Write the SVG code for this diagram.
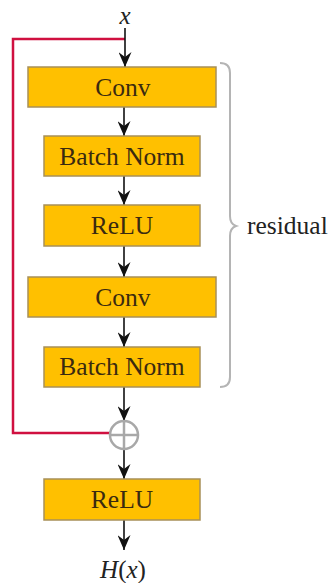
<svg xmlns="http://www.w3.org/2000/svg" width="331" height="583" viewBox="0 0 331 583">
  <style>
    .box { fill: #FFC000; stroke: #A89058; stroke-width: 1.5; }
    .lbl { font-family: "Liberation Serif", "DejaVu Serif", serif; font-size: 25.5px; fill: #3A2A10; text-anchor: middle; }
    .math { font-family: "Liberation Serif", "DejaVu Serif", serif; font-size: 25px; font-style: italic; fill: #222; text-anchor: middle; }
    .edge { stroke: #111; stroke-width: 1.6; fill: none; }
  </style>
  <defs>
    <marker id="ah" viewBox="0 0 15 13" refX="15" refY="6.5" markerWidth="15" markerHeight="13" markerUnits="userSpaceOnUse" orient="auto">
      <path d="M0,0 L15,6.5 L0,13 L5,6.5 Z" fill="#111"/>
    </marker>
  </defs>

  <!-- input / output labels -->
  <text class="math" x="125" y="24">x</text>
  <text class="math" x="123" y="578">H<tspan font-style="normal">(</tspan>x<tspan font-style="normal">)</tspan></text>

  <!-- skip connection -->
  <g id="skip">
    <polyline points="125,39 13,39 13,433 111,433" fill="none" stroke="#D01040" stroke-width="2.5"/>
  </g>

  <!-- connectors -->
  <g id="connectors">
    <line class="edge" x1="125" y1="28" x2="125" y2="67" marker-end="url(#ah)"/>
    <line class="edge" x1="124" y1="107" x2="124" y2="136" marker-end="url(#ah)"/>
    <line class="edge" x1="124" y1="176" x2="124" y2="205" marker-end="url(#ah)"/>
    <line class="edge" x1="124" y1="246" x2="124" y2="277" marker-end="url(#ah)"/>
    <line class="edge" x1="124" y1="317" x2="124" y2="347" marker-end="url(#ah)"/>
    <line class="edge" x1="124" y1="387" x2="124" y2="421" marker-end="url(#ah)"/>
    <line class="edge" x1="124" y1="449" x2="124" y2="479" marker-end="url(#ah)"/>
    <line class="edge" x1="124" y1="520" x2="124" y2="550" marker-end="url(#ah)"/>
  </g>

  <!-- residual brace -->
  <g id="brace">
    <path d="M220,63 Q230,63 230,73 L230,216 Q230,224 236,226 Q230,228 230,236 L230,377 Q230,387 220,387" fill="none" stroke="#B4B4B4" stroke-width="2"/>
    <text x="247" y="234" font-family="'Liberation Serif', 'DejaVu Serif', serif" font-size="25.5" fill="#222">residual</text>
  </g>

  <g id="conv1">
    <rect class="box" x="28" y="67" width="188" height="40"/>
    <text class="lbl" x="123" y="96">Conv</text>
  </g>
  <g id="bn1">
    <rect class="box" x="44" y="136" width="156" height="40"/>
    <text class="lbl" x="122" y="165">Batch Norm</text>
  </g>
  <g id="relu1">
    <rect class="box" x="44" y="205" width="156" height="41"/>
    <text class="lbl" x="122" y="234">ReLU</text>
  </g>
  <g id="conv2">
    <rect class="box" x="28" y="277" width="188" height="40"/>
    <text class="lbl" x="123" y="306">Conv</text>
  </g>
  <g id="bn2">
    <rect class="box" x="44" y="347" width="156" height="40"/>
    <text class="lbl" x="122" y="375">Batch Norm</text>
  </g>

  <g id="add">
    <circle cx="124" cy="435" r="14" fill="#fff" fill-opacity="0.6" stroke="#A8A8A8" stroke-width="2.5"/>
    <line x1="110" y1="435" x2="138" y2="435" stroke="#A8A8A8" stroke-width="2.5"/>
    <line x1="124" y1="421" x2="124" y2="449" stroke="#A8A8A8" stroke-width="2.5"/>
  </g>

  <g id="relu2">
    <rect class="box" x="44" y="479" width="156" height="41"/>
    <text class="lbl" x="122" y="508">ReLU</text>
  </g>
</svg>
